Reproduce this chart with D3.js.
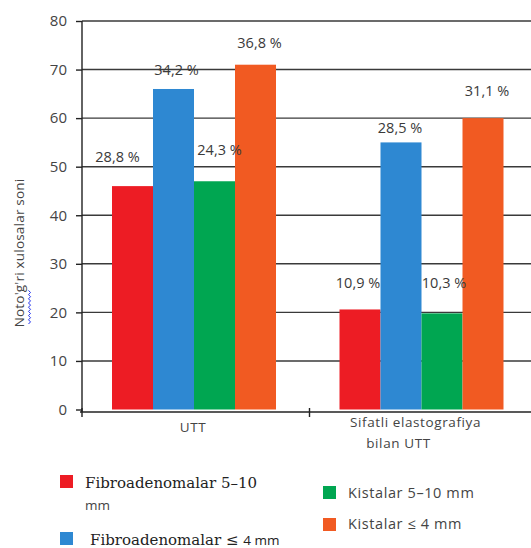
<!DOCTYPE html>
<html><head><meta charset="utf-8">
<script src="https://cdn.jsdelivr.net/npm/d3@7"></script>
<style>body{margin:0;background:#fff}svg{display:block}</style>
</head><body>
<svg id="c" width="531" height="548"></svg>
<script>
const categories = ["UTT", "Sifatli elastografiya\nbilan UTT"];
const seriesNames = ["Fibroadenomalar 5–10 mm", "Fibroadenomalar ≤ 4 mm", "Kistalar 5–10 mm", "Kistalar ≤ 4 mm"];
const valuesUTT = [46, 66, 47, 71];
const valuesElasto = [20.6, 55, 19.8, 60];
const labelsUTT = ["28,8 %", "34,2 %", "24,3 %", "36,8 %"];
const labelsElasto = ["10,9 %", "28,5 %", "10,3 %", "31,1 %"];
const yTicks = [0, 10, 20, 30, 40, 50, 60, 70, 80];
const colors = ["#ED1C24", "#2E88D2", "#00A651", "#F15A22"];

// label placement offsets (px) relative to bar top centre
const labelOffsets = [
  [[-15, -24], [3, -14], [5, -26], [4, -17]],
  [[-2, -21], [-1, -9], [2, -25], [4, -22]]
];

const values = [valuesUTT, valuesElasto];
const labels = [labelsUTT, labelsElasto];

const svg = d3.select("#c");
const y = d3.scaleLinear().domain([0, 80]).range([409.5, 21]);
const x0 = d3.scaleBand().domain(categories).range([82, 537]);
const x1 = d3.scaleBand().domain(d3.range(4)).range([30, 194]);

// gridlines
svg.append("g").selectAll("line").data(yTicks.filter(d => d > 0)).join("line")
  .attr("x1", 82).attr("x2", 531)
  .attr("y1", d => y(d)).attr("y2", d => y(d))
  .attr("stroke", "#3a3a3a").attr("stroke-width", 1.4);

// bars
categories.forEach((c, ci) => {
  const g = svg.append("g").attr("transform", `translate(${x0(c)},0)`);
  g.selectAll("rect").data(values[ci]).join("rect")
    .attr("x", (d, i) => x1(i)).attr("width", x1.bandwidth())
    .attr("y", d => y(d)).attr("height", d => y(0) - y(d))
    .attr("fill", (d, i) => colors[i]);
  g.selectAll("text").data(values[ci]).join("text")
    .attr("x", (d, i) => x1(i) + x1.bandwidth() / 2 + labelOffsets[ci][i][0])
    .attr("y", (d, i) => y(d) + labelOffsets[ci][i][1])
    .attr("text-anchor", "middle")
    .attr("font-family", "Open Sans, sans-serif").attr("font-size", 14.5)
    .attr("fill", "#3a3a3a")
    .text((d, i) => labels[ci][i]);
});

// y axis
const yAxis = svg.append("g").attr("transform", "translate(82,0)")
  .call(d3.axisLeft(y).tickValues(yTicks).tickSize(6).tickPadding(9));
yAxis.select(".domain").attr("stroke", "#222").attr("stroke-width", 1.4).attr("d", "M0,21V412");
yAxis.selectAll(".tick line").attr("stroke", "#222").attr("stroke-width", 1.4);
yAxis.selectAll(".tick text").attr("font-family", "Open Sans, sans-serif").attr("font-size", 15).attr("fill", "#444");

// x axis
const xAxisG = svg.append("g").attr("transform", "translate(0,412)");
xAxisG.append("line").attr("x1", 80).attr("x2", 531).attr("y1", 0).attr("y2", 0)
  .attr("stroke", "#222").attr("stroke-width", 1.4);
xAxisG.selectAll("line.tk").data(categories).join("line").attr("class", "tk")
  .attr("x1", d => x0(d)).attr("x2", d => x0(d)).attr("y1", -4).attr("y2", 5)
  .attr("stroke", "#222").attr("stroke-width", 1.4);
const xl = svg.append("g");
xl.append("text").attr("x", x0(categories[0]) + 111).attr("y", 432)
  .attr("text-anchor", "middle").attr("font-family", "Open Sans, sans-serif").attr("font-size", 13.5)
  .attr("fill", "#444").attr("letter-spacing", 0.6).text(categories[0]);
const parts = categories[1].split("\n");
xl.append("text").attr("x", x0(categories[1]) + 106).attr("y", 427)
  .attr("text-anchor", "middle").attr("font-family", "Open Sans, sans-serif").attr("font-size", 13.5)
  .attr("fill", "#444").attr("letter-spacing", 0.6).text(parts[0]);
xl.append("text").attr("x", x0(categories[1]) + 89).attr("y", 448)
  .attr("text-anchor", "middle").attr("font-family", "Open Sans, sans-serif").attr("font-size", 13.5)
  .attr("fill", "#444").attr("letter-spacing", 0.6).text(parts[1]);

// y title
svg.append("text").attr("transform", "translate(24,253) rotate(-90)")
  .attr("text-anchor", "middle").attr("font-family", "Open Sans, sans-serif").attr("font-size", 13.5)
  .attr("letter-spacing", 0.2)
  .attr("fill", "#444").text("Noto'g'ri xulosalar soni");
// spell-check squiggle
const sq = d3.range(0, 17).map(i => [29 + (i % 2 ? 1.5 : -0.5), 324 - i * 2.1]);
svg.append("path").attr("d", d3.line()(sq)).attr("fill", "none").attr("stroke", "#2233ee").attr("stroke-width", 1);

// legend
const legend = svg.append("g");
const legPos = [
  {sx: 60, sy: 475, tx: 85, ty: 488, font: "DejaVu Serif, serif"},
  {sx: 60, sy: 532, tx: 90, ty: 545, font: "DejaVu Serif, serif"},
  {sx: 323, sy: 486, tx: 348, ty: 498, font: "Open Sans, sans-serif"},
  {sx: 323, sy: 518, tx: 348, ty: 529, font: "Open Sans, sans-serif"}
];
seriesNames.forEach((n, i) => {
  const p = legPos[i];
  legend.append("rect").attr("x", p.sx).attr("y", p.sy).attr("width", 13).attr("height", 13).attr("fill", colors[i]);
  if (i === 0) {
    legend.append("text").attr("x", p.tx).attr("y", p.ty).attr("font-family", p.font).attr("font-size", 15)
      .attr("fill", "#222").text("Fibroadenomalar 5–10");
    legend.append("text").attr("x", p.tx).attr("y", 510).attr("font-family", "Open Sans, sans-serif").attr("font-size", 13.5)
      .attr("fill", "#444").text("mm");
  } else if (i === 1) {
    const t = legend.append("text").attr("x", p.tx).attr("y", p.ty).attr("font-family", p.font).attr("font-size", 15)
      .attr("fill", "#222");
    t.append("tspan").text("Fibroadenomalar ≤ ");
    t.append("tspan").attr("font-family", "Open Sans, sans-serif").attr("font-size", 13.5).text("4 mm");
  } else {
    legend.append("text").attr("x", p.tx).attr("y", p.ty).attr("font-family", p.font).attr("font-size", 14.5)
      .attr("fill", "#444").attr("letter-spacing", 0.6).text(n);
  }
});
</script>
</body></html>
